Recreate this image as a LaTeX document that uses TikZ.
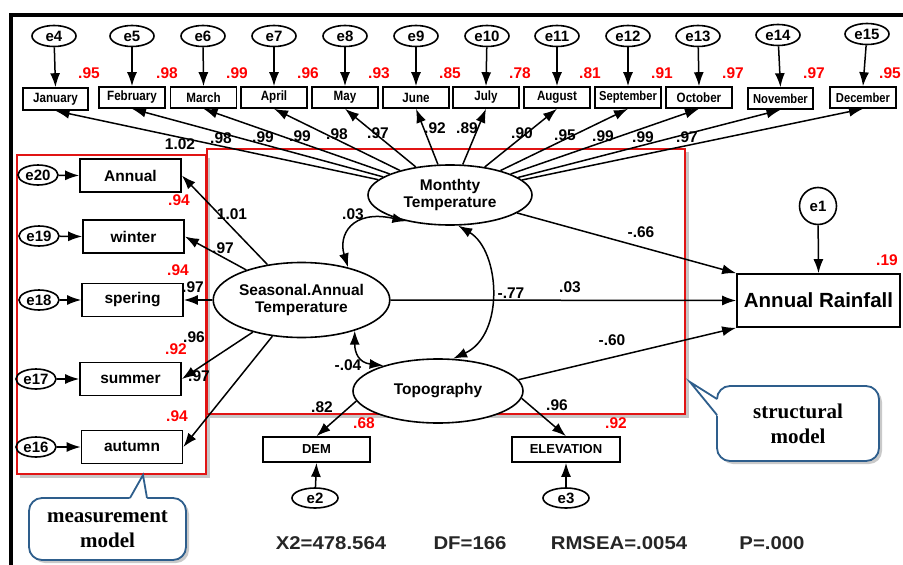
\documentclass[tikz,border=0pt]{standalone}
\usepackage{fontspec}
\setmainfont{Liberation Sans}
\newfontfamily\callfont{Liberation Serif}
\usetikzlibrary{shapes.geometric,arrows.meta,shadows}
\definecolor{rsq}{RGB}{255,0,0}
\definecolor{redbox}{RGB}{225,20,20}
\definecolor{cblue}{RGB}{46,94,140}
\newcommand\sqzx[1]{\scalebox{0.86}[1]{#1}}
\newcommand\strx[1]{\scalebox{1.1}[1]{#1}}
\begin{document}
\begin{tikzpicture}[x=1pt,y=-1pt,
  every node/.style={inner sep=0pt},
  lbl/.style={font=\bfseries\fontsize{15.5}{17}\selectfont},
  rsqlbl/.style={text=rsq,font=\bfseries\fontsize{15.5}{17}\selectfont},
  err/.style={ellipse,draw,line width=1.6pt,minimum width=44pt,minimum height=21pt,font=\bfseries\fontsize{15}{16}\selectfont},
  errl/.style={ellipse,draw,line width=1.6pt,minimum width=40pt,minimum height=20pt,font=\bfseries\fontsize{15}{16}\selectfont},
  mon/.style={rectangle,draw,line width=1.6pt,minimum width=66pt,minimum height=21pt,font=\bfseries\fontsize{13.5}{14}\selectfont},
  obs/.style={rectangle,draw,line width=1.7pt,minimum width=101pt,minimum height=33pt,font=\bfseries\fontsize{15.5}{17}\selectfont},
  topo/.style={rectangle,draw,line width=1.7pt,minimum width=107pt,minimum height=25pt,font=\bfseries\fontsize{13}{14}\selectfont},
  lat/.style={ellipse,draw,fill=white,line width=1.6pt,align=center,font=\bfseries\fontsize{15.5}{17.5}\selectfont},
  arr/.style={-{Latex[length=14pt,width=10pt]},line width=1.5pt},
  cov/.style={{Latex[length=14pt,width=10pt]}-{Latex[length=14pt,width=10pt]},line width=1.5pt},
  fit/.style={font=\bfseries\fontsize{18.5}{20}\selectfont,text=black!85},
  callbox/.style={rectangle,draw=cblue,line width=1.8pt,fill=white,rounded corners=13pt,align=center,
     font=\callfont\bfseries\fontsize{21}{25}\selectfont,
     drop shadow={shadow xshift=3pt,shadow yshift=-3pt,opacity=0.35,fill=black!60}},
  tail/.style={draw=cblue,line width=1.8pt}
]
\useasboundingbox (0,0) rectangle (903,565);
\fill[white] (0,0) rectangle (903,565);

% outer frame
\draw[line width=4pt] (11,565) -- (11,15) -- (903,15);

% red model boxes with soft shadows
\draw[black!22,line width=3pt] (208.5,157.5) -- (208.5,476.5) -- (19.5,476.5);
\draw[redbox,line width=2pt] (17,155) rectangle (206,474);
\draw[black!22,line width=3pt] (687.5,151.5) -- (687.5,416.5) -- (209.5,416.5);
\draw[redbox,line width=2pt] (207,149) rectangle (685,414);

% latent variables
\node[lat,minimum width=164pt,minimum height=60pt] (mt) at (450,195) {Monthty\\Temperature};
\node[lat,minimum width=153pt,minimum height=75pt] (sa) at (301.5,300) {Seasonal.Annual\\Temperature};
\node[lat,minimum width=170pt,minimum height=64pt] (tp) at (438,391) {Topography};

% top error terms and month indicators
\node[err] (e4) at (54,36) {e4};
\node[err] (e5) at (132,36) {e5};
\node[err] (e6) at (203,36) {e6};
\node[err] (e7) at (274,36) {e7};
\node[err] (e8) at (345,36) {e8};
\node[err] (e9) at (416,36) {e9};
\node[err] (e10) at (487,36) {e10};
\node[err] (e11) at (557,36) {e11};
\node[err] (e12) at (628,36) {e12};
\node[err] (e13) at (698,36) {e13};
\node[err] (e14) at (778,35) {e14};
\node[err] (e15) at (867,34) {e15};

\node[mon,minimum width=65pt,minimum height=22pt] (jan) at (55.5,99) {\sqzx{January}};
\node[mon] (feb) at (132,97.5) {\sqzx{February}};
\node[mon] (mar) at (203.5,97.5) {\sqzx{March}};
\node[mon] (apr) at (274,97.5) {\sqzx{April}};
\node[mon] (may) at (345,97.5) {\sqzx{May}};
\node[mon] (jun) at (416,97.5) {\sqzx{June}};
\node[mon] (jul) at (486,97.5) {\sqzx{July}};
\node[mon] (aug) at (557,97.5) {\sqzx{August}};
\node[mon,font=\bfseries\fontsize{13}{14}\selectfont] (sep) at (628,97.5) {\sqzx{September}};
\node[mon] (oct) at (699,97.5) {\sqzx{October}};
\node[mon,minimum width=65pt,font=\bfseries\fontsize{13}{14}\selectfont] (nov) at (780.5,98.5) {\sqzx{November}};
\node[mon,font=\bfseries\fontsize{13}{14}\selectfont] (dec) at (863,97.5) {\sqzx{December}};

\foreach \e/\m in {e4/jan,e5/feb,e6/mar,e7/apr,e8/may,e9/jun,e10/jul,e11/aug,e12/sep,e13/oct,e14/nov,e15/dec}
  \draw[arr] (\e) -- (\m.north);
\foreach \m in {jan,feb,mar,apr,may,jun,jul,aug,sep,oct,nov,dec}
  \draw[arr] (mt) -- (\m.south);

% squared multiple correlations (top)
\node[rsqlbl] (r4) at (89,73) {.95};
\node[rsqlbl] (r5) at (167,73) {.98};
\node[rsqlbl] (r6) at (237,73) {.99};
\node[rsqlbl] (r7) at (308,73) {.96};
\node[rsqlbl] (r8) at (379,73) {.93};
\node[rsqlbl] (r9) at (450,73) {.85};
\node[rsqlbl] (r10) at (520,73) {.78};
\node[rsqlbl] (r11) at (590,73) {.81};
\node[rsqlbl] (r12) at (662,73) {.91};
\node[rsqlbl] (r13) at (733,73) {.97};
\node[rsqlbl] (r14) at (814,73) {.97};
\node[rsqlbl] (r15) at (890,73) {.95};

% loadings (top)
\node[lbl] (l4) at (180,144) {1.02};
\node[lbl] (l5) at (221,138) {.98};
\node[lbl] (l6) at (263,137) {.99};
\node[lbl] (l7) at (300,136) {.99};
\node[lbl] (l8) at (337,134) {.98};
\node[lbl] (l9) at (378,133) {.97};
\node[lbl] (l10) at (435,128) {.92};
\node[lbl] (l11) at (467,128) {.89};
\node[lbl] (l12) at (522,133) {.90};
\node[lbl] (l13) at (565,135) {.95};
\node[lbl] (l14) at (603,136) {.99};
\node[lbl] (l15) at (643,137) {.99};
\node[lbl] (l16) at (687,137) {.97};

% seasonal indicators
\node[errl] (e20) at (38,175) {e20};
\node[errl] (e19) at (39,236) {e19};
\node[errl] (e18) at (39,300) {e18};
\node[errl] (e17) at (36,379) {e17};
\node[errl] (e16) at (36,447) {e16};
\node[obs] (ann) at (130.5,175.5) {Annual};
\node[obs] (win) at (133.5,236.5) {winter};
\node[obs] (spr) at (132.5,300) {spering};
\node[obs] (sum) at (130.5,379) {summer};
\node[obs] (aut) at (132,447) {autumn};
\foreach \e/\m in {e20/ann,e19/win,e18/spr,e17/sum,e16/aut}
  \draw[arr] (\e) -- (\m.west);
\foreach \m in {ann,win,spr,sum,aut}
  \draw[arr] (sa) -- (\m.east);

\node[rsqlbl] (ra) at (179,200) {.94};
\node[rsqlbl] (rw) at (178,270) {.94};
\node[rsqlbl] (rs) at (176,349) {.92};
\node[rsqlbl] (rt) at (177,416) {.94};
\node[lbl] (la) at (232,214) {1.01};
\node[lbl] (lw) at (223,248) {.97};
\node[lbl] (ls) at (193,287) {.97};
\node[lbl] (lu) at (194,337) {.96};
\node[lbl] (lt) at (199,376) {.97};

% covariances
\draw[cov] (mt.211) .. controls +(-55,-12) and +(-10,-32) .. (sa.35);
\draw[cov] (sa.330) .. controls +(0,22) and +(-25,-3) .. (tp.155);
\draw[cov] (mt.285) .. controls +(42,25) and +(52,-24) .. (tp.65);
\node[lbl] (c1) at (353,214) {.03};
\node[lbl] (c2) at (348,365) {-.04};
\node[lbl] (c3) at (511,293) {-.77};

% outcome
\node[rectangle,draw,line width=1.7pt,minimum width=163pt,minimum height=53pt,font=\bfseries\fontsize{20.5}{22}\selectfont] (ar) at (818.5,300.5) {Annual Rainfall};
\node[circle,draw,line width=1.6pt,minimum size=37pt,font=\bfseries\fontsize{15}{16}\selectfont] (e1) at (818,206) {e1};
\draw[arr] (e1) -- (ar.north);
\node[rsqlbl] (r1) at (887,260) {.19};
\draw[arr] (mt.345) -- (ar.north west);
\draw[arr] (sa.east) -- (ar.west);
\draw[arr] (tp.8) -- (ar.south west);
\node[lbl] (p1) at (641,232) {-.66};
\node[lbl] (p2) at (570,287) {.03};
\node[lbl] (p3) at (612,340) {-.60};

% topography indicators
\node[topo] (dem) at (316.5,449.5) {DEM};
\node[topo,minimum width=108pt] (elev) at (566,449.5) {ELEVATION};
\node[err,minimum width=46pt,minimum height=20pt] (e2) at (315,498) {e2};
\node[err,minimum width=46pt,minimum height=20pt] (e3) at (566,498) {e3};
\draw[arr] (tp.187) -- (dem.north);
\draw[arr] (tp.355) -- (elev.north);
\draw[arr] (e2) -- (dem.south);
\draw[arr] (e3) -- (elev.south);
\node[lbl] (ld) at (322,407) {.82};
\node[rsqlbl] (rd) at (364,423) {.68};
\node[lbl] (le) at (557,405) {.96};
\node[rsqlbl] (re) at (616,423) {.92};

% fit statistics
\node[fit] (f1) at (331,543) {\strx{X2=478.564}};
\node[fit] (f2) at (470,543) {\strx{DF=166}};
\node[fit] (f3) at (619,543) {\strx{RMSEA=.0054}};
\node[fit] (f4) at (772,543) {\strx{P=.000}};

% callouts
\node[callbox,minimum width=157pt,minimum height=62pt] (mc) at (107.5,529) {measurement\\model};
\fill[white] (143,475) -- (128.6,500.5) -- (147.4,500.5) -- cycle;
\draw[tail] (130,498) -- (143,475) -- (147,498);
\node[callbox,minimum width=162pt,minimum height=75pt] (sc) at (798,423.5) {structural\\model};
\fill[white] (690,382) -- (720,400.9) -- (720,418.7) -- cycle;
\draw[tail] (717,399) -- (690,382) -- (717,415);
\end{tikzpicture}
\end{document}
